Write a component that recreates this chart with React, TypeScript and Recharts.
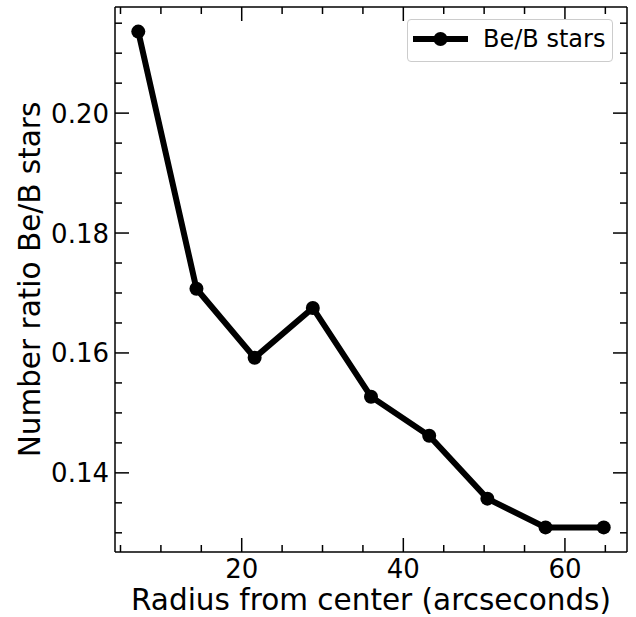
import React from 'react';
import { LineChart, Line, XAxis, YAxis, Legend, Label } from 'recharts';

// radius bins (arcsec) and Be/B ratio
const radius = [7.2, 14.4, 21.6, 28.8, 36.0, 43.2, 50.4, 57.6, 64.8];
const ratio = [0.2136, 0.1707, 0.1592, 0.1675, 0.1527, 0.1462, 0.1357, 0.1309, 0.1309];

const xMajor = [20, 40, 60];
const xMinor = [5, 10, 15, 25, 30, 35, 45, 50, 55, 65];
const yMajor = [0.14, 0.16, 0.18, 0.2];
const yMinor = [0.13, 0.135, 0.145, 0.15, 0.155, 0.165, 0.17, 0.175, 0.185, 0.19, 0.195, 0.205, 0.21, 0.215];

const xDomain: [number, number] = [4.32, 67.68];
const yDomain: [number, number] = [0.1268, 0.2177];

const data = radius.map((r, i) => ({ radius: r, ratio: ratio[i] }));
const xTicks = [...xMajor, ...xMinor].sort((a, b) => a - b);
const yTicks = [...yMajor, ...yMinor].sort((a, b) => a - b);

const FONT = '"DejaVu Sans", sans-serif';
const MAJOR = 14;
const MINOR = 7;
const TICK_FONT = 26;

const isMajor = (v: number, list: number[]) => list.some((m) => Math.abs(m - v) < 1e-9);

function BottomTick({ x, y, payload }: any) {
  const major = isMajor(payload.value, xMajor);
  return (
    <g>
      <line x1={x} x2={x} y1={y} y2={y - (major ? MAJOR : MINOR)} stroke="#000" strokeWidth={1.5} />
      {major && (
        <text x={x} y={y + 26} textAnchor="middle" fontSize={TICK_FONT} fontFamily={FONT} fill="#000">
          {payload.value}
        </text>
      )}
    </g>
  );
}

function TopTick({ x, y, payload }: any) {
  const major = isMajor(payload.value, xMajor);
  return <line x1={x} x2={x} y1={y} y2={y + (major ? MAJOR : MINOR)} stroke="#000" strokeWidth={1.5} />;
}

function LeftTick({ x, y, payload }: any) {
  const major = isMajor(payload.value, yMajor);
  return (
    <g>
      <line x1={x} x2={x + (major ? MAJOR : MINOR)} y1={y} y2={y} stroke="#000" strokeWidth={1.5} />
      {major && (
        <text x={x - 6} y={y + 9.5} textAnchor="end" fontSize={TICK_FONT} fontFamily={FONT} fill="#000">
          {payload.value.toFixed(2)}
        </text>
      )}
    </g>
  );
}

function RightTick({ x, y, payload }: any) {
  const major = isMajor(payload.value, yMajor);
  return <line x1={x} x2={x - (major ? MAJOR : MINOR)} y1={y} y2={y} stroke="#000" strokeWidth={1.5} />;
}

function LegendBox({ payload }: any) {
  const name = payload && payload[0] ? payload[0].value : 'Be/B stars';
  return (
    <div
      style={{
        position: 'relative',
        boxSizing: 'border-box',
        width: 206,
        height: 43,
        border: '1px solid #cccccc',
        borderRadius: 4,
        background: '#fff',
        fontFamily: FONT,
        fontSize: 24,
        color: '#000',
      }}
    >
      <svg width={70} height={41} style={{ position: 'absolute', left: 0, top: 0 }}>
        <line x1={5} x2={60} y1={19} y2={19} stroke="#000" strokeWidth={6} />
        <circle cx={32.5} cy={19} r={7} fill="#000" />
      </svg>
      <span style={{ position: 'absolute', left: 75, top: 4, lineHeight: '30px', whiteSpace: 'nowrap' }}>{name}</span>
    </div>
  );
}

const axisLine = { stroke: '#000', strokeWidth: 1.5 };

export default function App() {
  return (
    <div style={{ position: 'absolute', left: 0, top: 0, background: '#fff' }}>
      <LineChart width={636} height={617} data={data} margin={{ top: 6, right: 8, bottom: 0, left: 0 }}>
        <XAxis
          xAxisId="b"
          dataKey="radius"
          type="number"
          domain={xDomain}
          allowDataOverflow
          ticks={xTicks}
          interval={0}
          height={65}
          tickSize={0}
          tickMargin={0}
          tickLine={false}
          axisLine={axisLine}
          tick={<BottomTick />}
        >
          <Label
            value="Radius from center (arcseconds)"
            position="insideBottom"
            offset={7}
            fontSize={29.5}
            fontFamily={FONT}
            fill="#000"
          />
        </XAxis>
        <XAxis
          xAxisId="t"
          orientation="top"
          dataKey="radius"
          type="number"
          domain={xDomain}
          allowDataOverflow
          ticks={xTicks}
          interval={0}
          height={1}
          tickSize={0}
          tickMargin={0}
          tickLine={false}
          axisLine={axisLine}
          tick={<TopTick />}
        />
        <YAxis
          yAxisId="l"
          type="number"
          domain={yDomain}
          allowDataOverflow
          ticks={yTicks}
          interval={0}
          width={115}
          tickSize={0}
          tickMargin={0}
          tickLine={false}
          axisLine={axisLine}
          tick={<LeftTick />}
        >
          <Label
            content={(props: any) => {
              const vb = props.viewBox || {};
              const cy = vb.height ? vb.y + vb.height / 2 : 279.5;
              return (
                <text
                  transform={`translate(40, ${cy}) rotate(-90)`}
                  textAnchor="middle"
                  fontSize={29.5}
                  fontFamily={FONT}
                  fill="#000"
                >
                  Number ratio Be/B stars
                </text>
              );
            }}
          />
        </YAxis>
        <YAxis
          yAxisId="r"
          orientation="right"
          type="number"
          domain={yDomain}
          allowDataOverflow
          ticks={yTicks}
          interval={0}
          width={1}
          tickSize={0}
          tickMargin={0}
          tickLine={false}
          axisLine={axisLine}
          tick={<RightTick />}
        />
        <Legend
          layout="vertical"
          align="center"
          verticalAlign="middle"
          wrapperStyle={{ position: 'absolute', left: 407, top: 19, width: 206, height: 43 }}
          content={<LegendBox />}
        />
        <Line
          xAxisId="b"
          yAxisId="l"
          type="linear"
          dataKey="ratio"
          name="Be/B stars"
          stroke="#000"
          strokeWidth={6}
          dot={{ r: 7, fill: '#000', stroke: 'none' }}
          activeDot={false}
          isAnimationActive={false}
        />
      </LineChart>
    </div>
  );
}
